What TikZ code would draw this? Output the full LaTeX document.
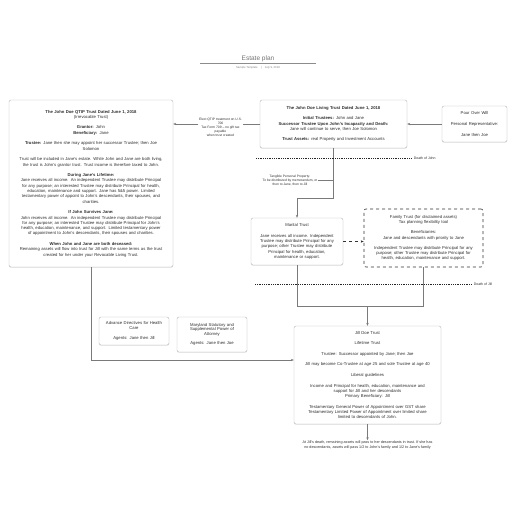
\documentclass[tikz,border=0pt]{standalone}
\usepackage{fontspec}
\setmainfont{Liberation Sans}
\usepackage{tikz}
\usetikzlibrary{arrows.meta, positioning, shadows, calc}
\definecolor{boxline}{HTML}{B4B4B4}
\definecolor{linkgray}{HTML}{7A7A7A}
\definecolor{textgray}{HTML}{2E2E2E}
\tikzset{
	basenode/.style={
			draw=boxline,
			fill=white,
			rounded corners=2pt,
			align=center,
			text=textgray,
			inner sep=3pt,
			font=\fontsize{4.2}{5.3}\selectfont
		},
	plannode/.style={
			basenode,
			drop shadow={shadow xshift=0pt, shadow yshift=-0.8pt, opacity=0.18}
		},
	disclaimnode/.style={
			basenode,
			draw=black!80,
			dashed,
			line width=0.6pt
		},
	smallnode/.style={
			plannode,
			font=\fontsize{4.2}{4.6}\selectfont
		},
	notenode/.style={
			align=center,
			text=textgray,
			inner sep=0.5pt,
			font=\fontsize{3.3}{4}\selectfont
		},
	eventlabel/.style={
			right,
			inner sep=1.5pt,
			text=textgray,
			font=\fontsize{3.5}{4}\selectfont
		},
	link/.style={draw=linkgray, line width=0.5pt},
	linkarrow/.style={link, -{Stealth[length=3pt,width=2.4pt]}},
	deathline/.style={draw=black!85, line width=0.6pt, dash pattern=on 0.9pt off 0.9pt}
}

\begin{document}
\begin{tikzpicture}[x=1pt, y=-1pt]
\useasboundingbox (0,0) rectangle (516,516);

% heading
\node[text=black!55, font=\fontsize{6.5}{7}\selectfont] (title) at (258,58.5) {Estate plan};
\draw[black!45, line width=0.6pt] (200,63) -- (316,63);
\node[text=black!50, font=\fontsize{2.8}{3}\selectfont] (subtitle) at (258,67.5) {Sample Template \quad|\quad July 9, 2018};

% trusts
\node[plannode, text width=158pt, minimum height=167pt] (tQtip) at (91,183.5) {%
\textbf{The John Doe QTIP Trust Dated June 1, 2018}\\
(Irrevocable Trust)\\[5.3pt]
\textbf{Grantor:} John\\
\textbf{Beneficiary:} Jane\\[5.3pt]
\textbf{Trustee:} Jane then she may appoint her successor Trustee; then Joe\\
Solomon\\[5.3pt]
Trust will be included in Jane's estate. While John and Jane are both living,\\
the trust is John's grantor trust. Trust income is therefore taxed to John.\\[5.3pt]
\textbf{During Jane's Lifetime:}\\
Jane receives all income. An independent Trustee may distribute Principal\\
for any purpose; an interested Trustee may distribute Principal for health,\\
education, maintenance and support. Jane has 5\&5 power. Limited\\
testamentary power of appoint to John's descendants, their spouses, and\\
charities.\\[5.3pt]
\textbf{If John Survives Jane:}\\
John receives all income. An independent Trustee may distribute Principal\\
for any purpose; an interested Trustee may distribute Principal for John's\\
health, education, maintenance, and support. Limited testamentary power\\
of appointment to John's descendants, their spouses and charities.\\[5.3pt]
\textbf{When John and Jane are both deceased:}\\
Remaining assets will flow into trust for Jill with the same terms as the trust\\
created for her under your Revocable Living Trust.};

\node[plannode, text width=141pt, minimum height=48pt] (tLiving) at (333.5,124) {%
\textbf{The John Doe Living Trust Dated June 1, 2018}\\[5.3pt]
\textbf{Initial Trustees:} John and Jane\\
\textbf{Successor Trustee Upon John's Incapacity and Death:}\\
Jane will continue to serve, then Joe Solomon\\[5.3pt]
\textbf{Trust Assets:} real Property and Investment Accounts};

\node[plannode, text width=59pt, minimum height=36pt] (tPour) at (474.5,124) {%
Pour Over Will\\[5.3pt]
Personal Representative:\\[5.3pt]
Jane then Joe};

\node[plannode, text width=86pt, minimum height=47pt] (tMarital) at (297,241.5) {%
Marital Trust\\[5pt]
Jane receives all income. Independent\\
Trustee may distribute Principal for any\\
purpose; other Trustee may distribute\\
Principal for health, education,\\
maintenance or support.};

\node[disclaimnode, text width=113pt, minimum height=58pt] (tFamily) at (423.5,238) {%
Family Trust (for disclaimed assets)\\
Tax planning flexibility tool\\[5pt]
Beneficiaries:\\
Jane and descendants with priority to Jane\\[5pt]
Independent Trustee may distribute Principal for any\\
purpose; other Trustee may distribute Principal for\\
health, education, maintenance and support.};

\node[smallnode, text width=64pt, minimum height=28pt] (tHealth) at (134,331) {%
Advance Directives for Health\\
Care\\[5pt]
Agents: Jane then Jill};

\node[smallnode, text width=64pt, minimum height=35pt] (tPoa) at (212,334.5) {%
Maryland Statutory and\\
Supplemental Power of\\
Attorney\\[5pt]
Agents: Jane then Joe};

\node[plannode, text width=141pt, minimum height=98pt] (tJill) at (367.5,375) {%
Jill Doe Trust\\[5.3pt]
Lifetime Trust\\[5.3pt]
Trustee: Successor appointed by Jane; then Joe\\[5.3pt]
Jill may become Co-Trustee at age 25 and sole Trustee at age 40\\[5.3pt]
Liberal guidelines\\[5.3pt]
Income and Principal for health, education, maintenance and\\
support for Jill and her descendants\\
Primary Beneficiary: Jill\\[5.3pt]
Testamentary General Power of Appointment over GST share\\
Testamentary Limited Power of Appointment over limited share\\
limited to descendants of John.};

% notes on the links
\node[notenode] (nElect) at (220.5,127.5) {Elect QTIP treatment on U.S.\\706\\Tax Form 709 -- no gift tax\\payable\\when trust created};
\node[notenode] (nTangible) at (290,180.5) {Tangible Personal Property:\\To be distributed by memorandum, or\\then to Jane, then to Jill};
\node[notenode, font=\fontsize{3.7}{4.7}\selectfont] (nOutcome) at (367.5,445) {At Jill's death, remaining assets will pass to her descendants in trust. If she has\\no descendants, assets will pass 1/2 to John's family and 1/2 to Jane's family};

% links
\draw[link] (tLiving.west) -- (tLiving.west -| nElect.east);
\draw[linkarrow] (tLiving.west -| nElect.west) -- (tLiving.west -| tQtip.east);
\draw[linkarrow] (tPour.west) -- (tLiving.east);

\coordinate (cSplit) at (333.5,198);
\draw[linkarrow] (tLiving.south) -- (cSplit) -| (tMarital.north);
\draw[link] (nTangible.east) -- (nTangible.east -| tLiving.south);

\draw[linkarrow, draw=black!80, dashed, line width=0.6pt] (tMarital.east) -- (tMarital.east -| tFamily.west);

\coordinate (cMerge) at (367.5,306);
\draw[link] (tMarital.south) |- (cMerge);
\draw[link] (tFamily.south) |- (cMerge);
\draw[linkarrow] (cMerge) -- (tJill.north);

\coordinate (cBend) at (91,360);
\draw[linkarrow] (tQtip.south) -- (cBend) -- (cBend -| tJill.west);
\draw[linkarrow] (tJill.south) -- (nOutcome.north);

% events
\coordinate (dJohnA) at (256,158);
\coordinate (dJohnB) at (412,158);
\draw[deathline] (dJohnA) -- (dJohnB) node[eventlabel] {Death of John};
\coordinate (dJillA) at (255,284);
\coordinate (dJillB) at (472,284);
\draw[deathline] (dJillA) -- (dJillB) node[eventlabel] {Death of Jill};
\end{tikzpicture}
\end{document}
